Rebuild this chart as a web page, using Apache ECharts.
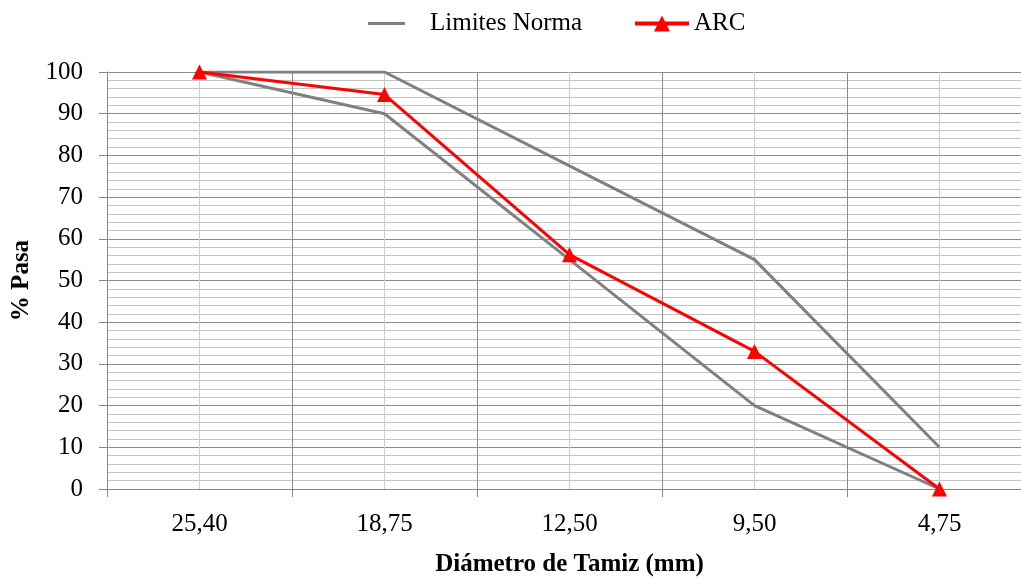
<!DOCTYPE html>
<html>
<head>
<meta charset="utf-8">
<script src="https://cdn.jsdelivr.net/npm/echarts@6/dist/echarts.min.js"></script>
<style>
html,body{margin:0;padding:0;background:#fff;}
#c{width:1021px;height:578px;}
</style>
</head>
<body>
<div id="c"></div>
<script>
var categories = ['25,40', '18,75', '12,50', '9,50', '4,75'];
var limiteSuperior = [100, 100, 77.5, 55, 10];
var limiteInferior = [100, 90, 55, 20, 0];
var arc = [100, 94.6, 56.2, 33, 0];
var yTicks = {min: 0, max: 100, interval: 10};

var halfCats = [];
categories.forEach(function (c) { halfCats.push(c + 'a', c + 'b'); });

var font = 'Liberation Serif, Times New Roman, serif';
var chart = echarts.init(document.getElementById('c'));
chart.setOption({
  animation: false,
  backgroundColor: '#fff',
  grid: {left: 107, right: -11, top: 72, bottom: 89, containLabel: false, outerBoundsMode: 'none'},
  legend: [
    {
      data: [{name: 'Limites Norma', icon: 'rect', itemStyle: {color: '#808080'}}],
      left: 363, top: 6, itemWidth: 37, itemHeight: 3,
      textStyle: {fontFamily: font, fontSize: 25, color: '#000', padding: [0, 0, 0, 20], lineHeight: 24}
    },
    {
      data: ['ARC'], left: 628, top: 6, itemWidth: 54, itemHeight: 20,
      lineStyle: {width: 4},
      textStyle: {fontFamily: font, fontSize: 25, color: '#000', padding: [0, 0, 0, 0], lineHeight: 24}
    }
  ],
  xAxis: [
    {
      type: 'category', data: categories, boundaryGap: true, position: 'bottom',
      name: 'Diámetro de Tamiz (mm)', nameLocation: 'middle', nameGap: 63,
      nameTextStyle: {fontFamily: font, fontSize: 25, fontWeight: 'bold', color: '#000'},
      axisLine: {show: true, lineStyle: {color: '#868686', width: 1}},
      axisTick: {show: true, interval: 0, length: 8, lineStyle: {color: '#868686'}},
      axisLabel: {fontFamily: font, fontSize: 25, color: '#000', margin: 23, interval: 0},
      splitLine: {show: true, interval: 0, lineStyle: {color: '#8c8c8c', width: 1}}
    },
    {
      type: 'category', data: halfCats, boundaryGap: true, position: 'top',
      axisLine: {show: false}, axisTick: {show: false}, axisLabel: {show: false},
      splitLine: {show: true, interval: function (i) { return i % 2 === 1; },
        lineStyle: {color: '#cccccc', width: 1}}
    }
  ],
  yAxis: {
    type: 'value', min: yTicks.min, max: yTicks.max, interval: yTicks.interval,
    name: '% Pasa', nameLocation: 'middle', nameGap: 73,
    nameTextStyle: {fontFamily: font, fontSize: 25, fontWeight: 'bold', color: '#000'},
    axisLine: {show: true, lineStyle: {color: '#868686', width: 1}},
    axisTick: {show: true, length: 8, lineStyle: {color: '#868686'}},
    axisLabel: {fontFamily: font, fontSize: 25, color: '#000', margin: 24},
    splitLine: {show: true, lineStyle: {color: '#8c8c8c', width: 1}},
    minorTick: {show: false, splitNumber: 5},
    minorSplitLine: {show: true, lineStyle: {color: '#c4c4c4', width: 1}}
  },
  series: [
    {
      name: 'Limites Norma', type: 'line', data: limiteSuperior, symbol: 'none',
      lineStyle: {color: '#808080', width: 3}, itemStyle: {color: '#808080'}, z: 2
    },
    {
      name: 'Limites Norma', type: 'line', data: limiteInferior, symbol: 'none',
      lineStyle: {color: '#808080', width: 3}, itemStyle: {color: '#808080'}, z: 2
    },
    {
      name: 'ARC', type: 'line', data: arc, symbol: 'triangle', symbolSize: 15,
      lineStyle: {color: '#ff0000', width: 3}, itemStyle: {color: '#ff0000'}, z: 3
    }
  ]
});
</script>
</body>
</html>
